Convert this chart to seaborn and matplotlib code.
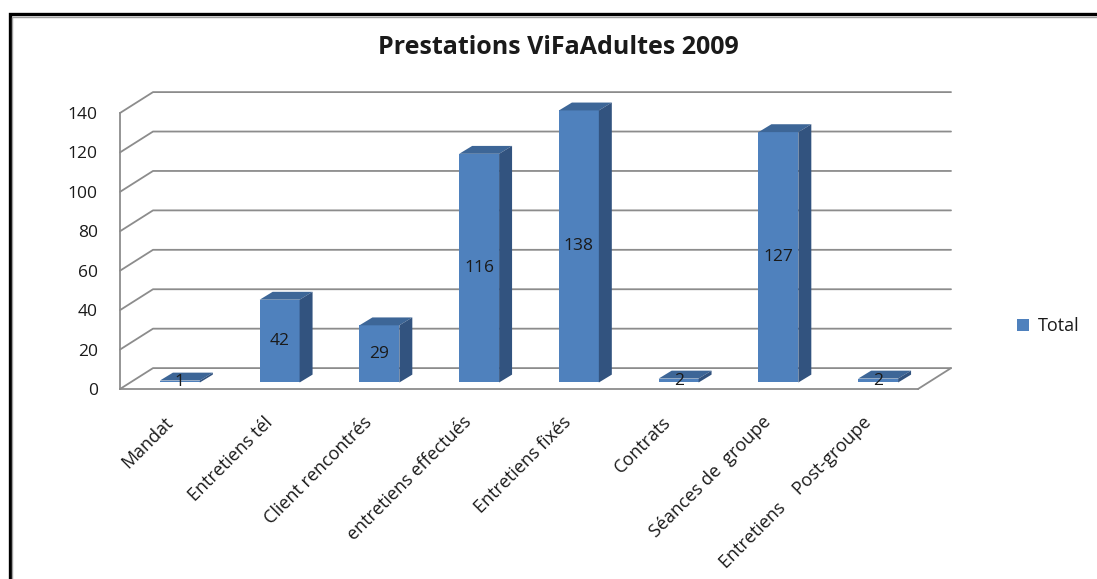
import numpy as np
import matplotlib
matplotlib.use('Agg')
import matplotlib.pyplot as plt
from matplotlib.patches import Polygon, Rectangle, Patch
from matplotlib.transforms import Affine2D
import seaborn as sns

# Data
categories = ['Mandat', 'Entretiens tél', 'Client rencontrés', 'entretiens effectués',
              'Entretiens fixés', 'Contrats', 'Séances de  groupe', 'Entretiens    Post-groupe']
totals = [1, 42, 29, 116, 138, 2, 127, 2]
y_ticks = [0, 20, 40, 60, 80, 100, 120, 140]
title = 'Prestations ViFaAdultes 2009'
series_name = 'Total'

# Colours
FRONT = '#4F81BD'
TOP = '#3D6697'
SIDE = '#32537F'
GRID = '#8C8C8C'
TEXT = '#1a1a1a'

# fake 3D depth (x in category units, y in value units)
DEPTH_X, DEPTH_Y = 0.331, 10.6
BAR_DX, BAR_DY = 0.13, 4.0
OFF_X, OFF_Y = (DEPTH_X - BAR_DX) / 2, (DEPTH_Y - BAR_DY) / 2

sns.set_style('white')
plt.rcParams['font.family'] = ['Open Sans', 'DejaVu Sans']

W, H = 1097, 579
fig = plt.figure(figsize=(W / 100, H / 100), dpi=100)
ax = fig.add_axes([120 / W, 190 / H, 798 / W, 276 / H])

sns.barplot(x=categories, y=totals, color=FRONT, saturation=1, width=0.4,
            linewidth=0, ax=ax, zorder=3)

x_lo, x_hi = -0.5, len(categories) - 0.5
ax.set_xlim(x_lo, x_hi)
ax.set_ylim(0, 140)

# push bars to the middle of the depth and add top / side faces
shift = Affine2D().translate(OFF_X, OFF_Y) + ax.transData
for p, v in zip(ax.patches, totals):
    p.set_transform(shift)
    p.set_clip_on(False)
    x0 = p.get_x() + OFF_X
    x1 = x0 + p.get_width()
    h = p.get_height() + OFF_Y
    b = OFF_Y
    top = Polygon([(x0, h), (x1, h), (x1 + BAR_DX, h + BAR_DY), (x0 + BAR_DX, h + BAR_DY)],
                  closed=True, facecolor=TOP, edgecolor='none', zorder=3, clip_on=False)
    side = Polygon([(x1, b), (x1, h), (x1 + BAR_DX, h + BAR_DY), (x1 + BAR_DX, b + BAR_DY)],
                   closed=True, facecolor=SIDE, edgecolor='none', zorder=3, clip_on=False)
    ax.add_patch(top)
    ax.add_patch(side)
    ax.text((x0 + x1) / 2, b + p.get_height() / 2, str(v), ha='center', va='center',
            fontsize=12.5, color=TEXT, zorder=4)

# back wall grid + floor
for v in y_ticks:
    ax.plot([x_lo, x_lo + DEPTH_X, x_hi + DEPTH_X], [v, v + DEPTH_Y, v + DEPTH_Y],
            color=GRID, lw=1.3, zorder=1, clip_on=False)
ax.plot([x_hi, x_hi + DEPTH_X], [0, DEPTH_Y], color=GRID, lw=1.3, zorder=1, clip_on=False)

for s in ['top', 'right']:
    ax.spines[s].set_visible(False)
for s in ['left', 'bottom']:
    ax.spines[s].set_color(GRID)
    ax.spines[s].set_linewidth(1.3)

ax.set_yticks(y_ticks)
ax.set_yticklabels([str(t) for t in y_ticks])
ax.tick_params(axis='y', length=4, width=1.2, color=GRID, labelsize=12.5, labelcolor=TEXT, pad=12)

ax.set_xticks(np.arange(len(categories) + 1) - 0.5)
ax.set_xticklabels([])
ax.set_xticks(np.arange(len(categories)), categories, minor=True)
ax.tick_params(axis='x', which='major', length=4.5, width=1.2, color=GRID)
ax.tick_params(axis='x', which='minor', length=0, labelsize=13, labelcolor=TEXT, pad=22)
for lab in ax.get_xticklabels(minor=True):
    lab.set_rotation(45)
    lab.set_ha('right')
    lab.set_va('center')
    lab.set_rotation_mode('anchor')
ax.set_xlabel('')
ax.set_ylabel('')
ax.patch.set_alpha(0)

fig.text(558 / W, 1 - 47 / H, title, ha='center', va='center', fontsize=18,
         fontweight='bold', color=TEXT)

fig.legend(handles=[Patch(facecolor=FRONT, edgecolor='none', label=series_name)],
           loc='center left', bbox_to_anchor=(1017 / W, 1 - 326 / H), frameon=False,
           handlelength=0.65, handleheight=0.65, handletextpad=0.5, borderpad=0,
           borderaxespad=0, fontsize=13, labelcolor=TEXT)

# chart frame
fig.patches.append(Rectangle((9.5 / W, -0.1), 1.2, 1.1 - 14.5 / H, transform=fig.transFigure,
                             fill=False, edgecolor='black', lw=2.4, zorder=0))
fig.patches.append(Rectangle((11.5 / W, -0.1), 1.2, 1.1 - 16.5 / H, transform=fig.transFigure,
                             fill=False, edgecolor='#a0a0a0', lw=1.0, zorder=0))

fig.savefig('out.png', dpi=100, facecolor='white')
